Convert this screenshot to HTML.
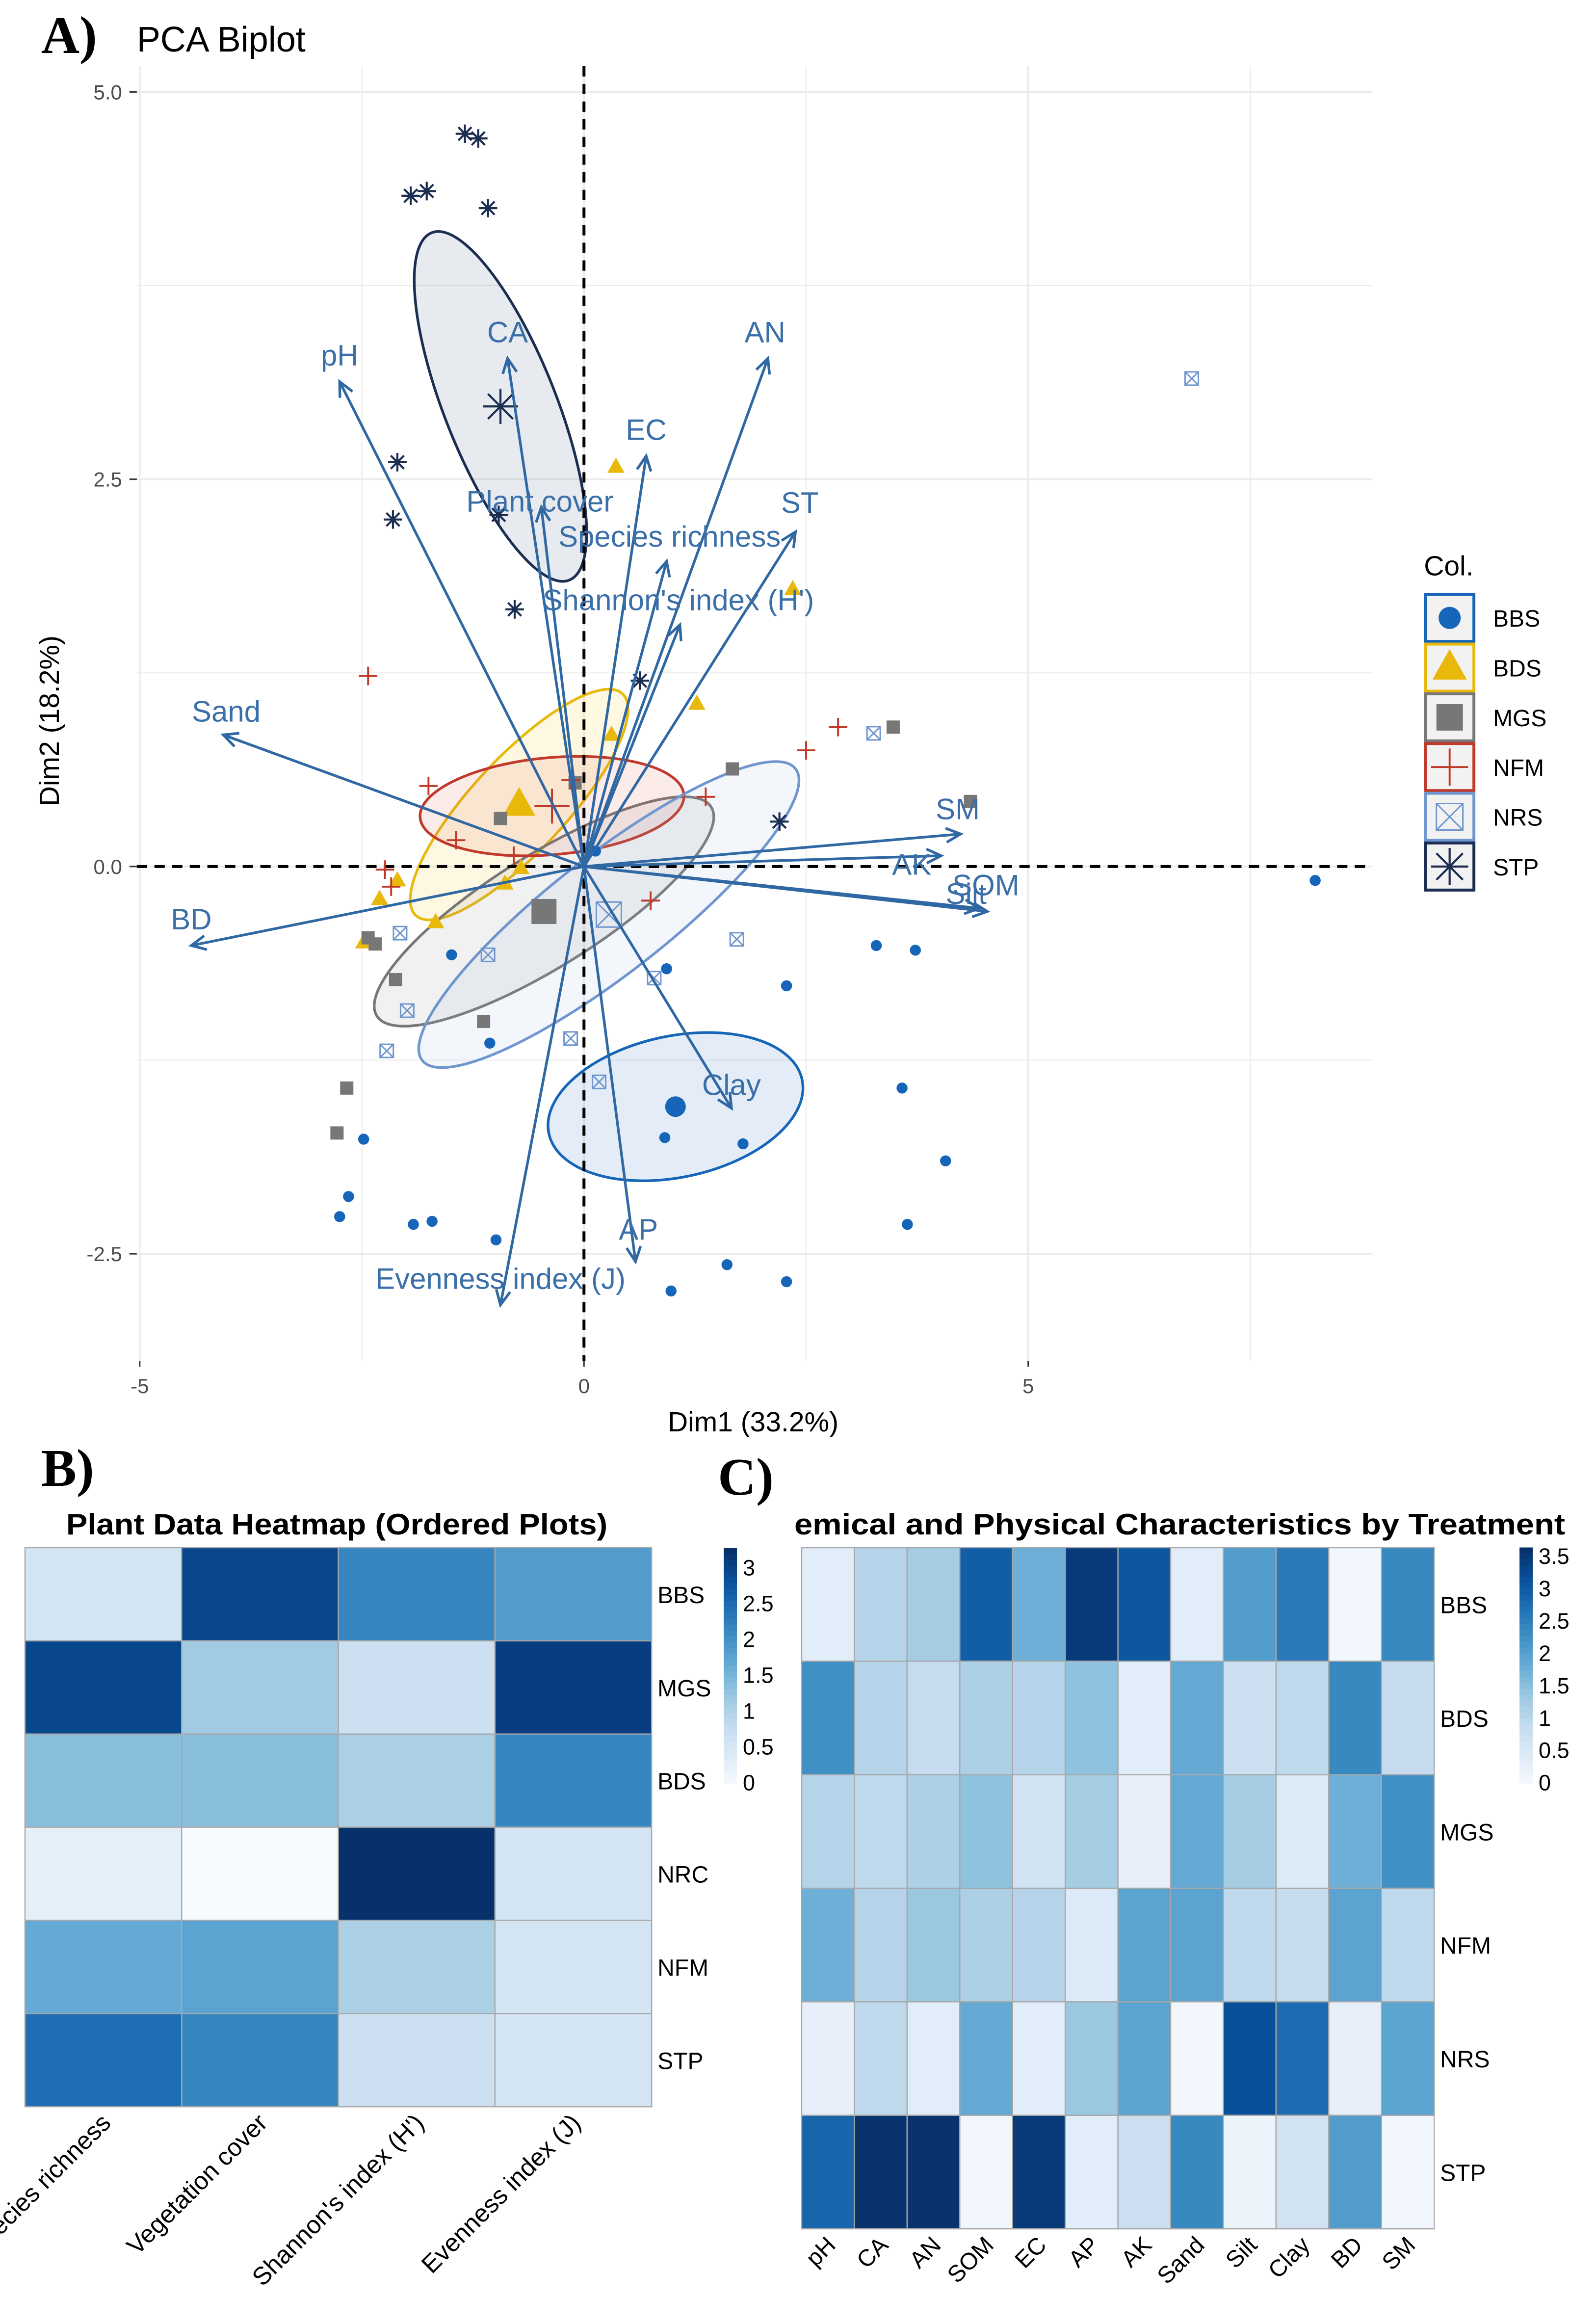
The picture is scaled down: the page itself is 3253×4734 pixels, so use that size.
<!DOCTYPE html>
<html><head><meta charset="utf-8"><style>
html,body{margin:0;padding:0;background:#fff;}
svg{display:block;}
</style></head><body>
<svg id="fig" xmlns="http://www.w3.org/2000/svg" width="3253" height="4734" viewBox="0 0 1085 1579" preserveAspectRatio="none" font-family="Liberation Sans, sans-serif">
<rect x="0" y="0" width="1085" height="1579" fill="#fff"/>
<g id="pca"></g>
<g id="hb"></g>
<g id="hc"></g>
</svg>
<script>
const NS="http://www.w3.org/2000/svg";
function mk(parent,tag,attrs,txt){const e=document.createElementNS(NS,tag);for(const k in attrs)e.setAttribute(k,attrs[k]);if(txt!==undefined)e.textContent=txt;parent.appendChild(e);return e;}

// ===== PCA data =====
const bbsX=[8.23,0.93,2.28,3.29,3.73,3.58,4.07,3.64,0.91,1.79,-2.48,-2.65,-2.75,-1.92,-1.71,-0.99,-1.49,-1.06,0.13,1.61,0.98,2.28];
const bbsY=[-0.09,-0.66,-0.77,-0.51,-0.54,-1.43,-1.90,-2.31,-1.75,-1.79,-1.76,-2.13,-2.26,-2.31,-2.29,-2.41,-0.57,-1.14,0.10,-2.57,-2.74,-2.68];
const bdsX=[0.36,2.35,1.27,0.31,-2.10,-2.30,-2.48,-1.67,-0.89,-0.71];
const bdsY=[2.58,1.79,1.05,0.85,-0.09,-0.21,-0.49,-0.36,-0.11,-0.01];
const mgsX=[3.48,4.35,1.67,-0.10,-0.94,-2.43,-2.35,-2.12,-2.67,-2.78,-1.13];
const mgsY=[0.90,0.42,0.63,0.54,0.31,-0.46,-0.50,-0.73,-1.43,-1.72,-1.00];
const nfmX=[-2.43,-1.75,-1.44,-2.17,-2.24,-0.79,-0.15,1.37,2.50,2.86,0.75];
const nfmY=[1.23,0.52,0.17,-0.13,-0.02,0.07,0.56,0.45,0.75,0.90,-0.22];
const nrsX=[6.84,3.26,1.72,0.79,-0.15,0.17,-1.08,-2.07,-1.99,-2.22];
const nrsY=[3.15,0.86,-0.47,-0.72,-1.11,-1.39,-0.57,-0.43,-0.93,-1.19];
const stpX=[-1.34,-1.19,-1.95,-1.77,-1.08,-2.10,-2.15,-0.96,-0.78,0.63,2.20];
const stpY=[4.73,4.70,4.33,4.36,4.25,2.61,2.24,2.27,1.66,1.20,0.29];
const groups=["BBS","BDS","MGS","NFM","NRS","STP"];
const centX=[1.03,-0.73,-0.45,-0.36,0.28,-0.94];
const centY=[-1.55,0.40,-0.29,0.39,-0.31,2.97];
const varNames=["pH","CA","AN","EC","ST","Plant cover","Species richness","Shannon's index (H')","Sand","BD","SM","AK","Silt","SOM","Clay","AP","Evenness index (J)"];
const varX=[-2.75,-0.86,2.07,0.70,2.38,-0.48,0.93,1.08,-4.06,-4.42,4.24,4.02,4.45,4.54,1.66,0.58,-0.94];
const varY=[3.13,3.28,3.28,2.65,2.16,2.32,1.97,1.56,0.85,-0.51,0.21,0.07,-0.27,-0.29,-1.56,-2.55,-2.83];
const xTicks=[-5,0,5];
const yTicks=[-2.5,0,2.5,5];
const yTickLabels=["-2.5","0.0","2.5","5.0"];

// layout (not data)
const labOff=[[0,-18],[0,-18],[-2,-18],[0,-18],[3,-20],[-1,-4],[2,-17],[-1,-17],[2,-16],[0,-18],[-2,-17],[-20,6],[-9,-10],[-1,-18],[0,-16],[2,-22],[0,-18]];
// BBS, BDS, MGS, NFM, NRS, STP
const ell=[[88,48,-12],[103,32,-47],[134,38,-32],[90,33,-5],[161,40,-38],[38,127,-21.6]];
const gcol=["#1565b8","#e8b90b","#777777","#c0392b","#6f96cf","#1b2d50"];
const gfill=["#1f6fc0","#f5c518","#8a8a8a","#e06050","#9db6e0","#3a4f70"];

const X0=397,XS=60.4,Y0=589,YS=105.3;
const sx=v=>X0+v*XS, sy=v=>Y0-v*YS;
const P=document.getElementById('pca');
const SERIF='font-family:"Liberation Serif",serif';

const PL=93,PR=933,PT=45,PB=925;
for(let v=-5;v<=7.5;v+=2.5){const line=mk(P,'line',{x1:sx(v),x2:sx(v),y1:PT,y2:PB,stroke:'#ebebeb','stroke-width':v%5===0?1.2:0.7});}
for(let v=-2.5;v<=5;v+=1.25){const line=mk(P,'line',{x1:PL,x2:PR,y1:sy(v),y2:sy(v),stroke:'#ebebeb','stroke-width':(v/2.5)%1===0?1.2:0.7});}

xTicks.forEach(t=>{const l=mk(P,'text',{x:sx(t),y:947,'font-size':14,'text-anchor':'middle',fill:'#4d4d4d'},String(t));mk(P,'line',{x1:sx(t),x2:sx(t),y1:PB,y2:PB+4,stroke:'#333'});});
yTicks.forEach((t,i)=>{const l=mk(P,'text',{x:83,y:sy(t)+5,'font-size':14,'text-anchor':'end',fill:'#4d4d4d'},yTickLabels[i]);mk(P,'line',{x1:PL-5,x2:PL,y1:sy(t),y2:sy(t),stroke:'#333'});});

groups.forEach((g,i)=>{const e=mk(P,'ellipse',{cx:0,cy:0,rx:ell[i][0],ry:ell[i][1],transform:`translate(${sx(centX[i])},${sy(centY[i])}) rotate(${ell[i][2]})`,fill:gfill[i],'fill-opacity':0.12,stroke:gcol[i],'stroke-width':1.8});});

mk(P,'line',{x1:PL,x2:PR,y1:sy(0),y2:sy(0),stroke:'#000','stroke-width':2,'stroke-dasharray':'7,5'});
mk(P,'line',{x1:sx(0),x2:sx(0),y1:PT,y2:PB,stroke:'#000','stroke-width':2,'stroke-dasharray':'7,5'});

function marker(parent,type,x,y,s){
  let g;
  if(type===0){g=mk(parent,'circle',{cx:x,cy:y,r:s*0.5,fill:gcol[0]});}
  else if(type===1){g=mk(parent,'polygon',{points:`${x},${y-s*0.7} ${x-s*0.65},${y+s*0.45} ${x+s*0.65},${y+s*0.45}`,fill:gcol[1]});}
  else if(type===2){g=mk(parent,'rect',{x:x-s*0.5,y:y-s*0.5,width:s,height:s,fill:gcol[2]});}
  else if(type===3){g=mk(parent,'path',{d:`M${x-s*0.7},${y}H${x+s*0.7}M${x},${y-s*0.7}V${y+s*0.7}`,stroke:gcol[3],'stroke-width':1.3,fill:'none'});}
  else if(type===4){g=mk(parent,'path',{d:`M${x-s*0.5},${y-s*0.5}h${s}v${s}h${-s}zM${x-s*0.5},${y-s*0.5}l${s},${s}M${x+s*0.5},${y-s*0.5}l${-s},${s}`,stroke:gcol[4],'stroke-width':1,fill:'none'});}
  else {g=mk(parent,'path',{d:`M${x-s*0.7},${y}H${x+s*0.7}M${x},${y-s*0.7}V${y+s*0.7}M${x-s*0.5},${y-s*0.5}L${x+s*0.5},${y+s*0.5}M${x+s*0.5},${y-s*0.5}L${x-s*0.5},${y+s*0.5}`,stroke:gcol[5],'stroke-width':1.4,fill:'none'});}
  return g;
}
const GX=[bbsX,bdsX,mgsX,nfmX,nrsX,stpX],GY=[bbsY,bdsY,mgsY,nfmY,nrsY,stpY];
GX.forEach((xs,i)=>{xs.forEach((v,j)=>{const m=marker(P,i,sx(v),sy(GY[i][j]),i===0?7.5:9);});
  const c=marker(P,i,sx(centX[i]),sy(centY[i]),i===0?14:17);});

const AC="#2f68a3";
varNames.forEach((n,i)=>{
  const x1=sx(0),y1=sy(0),x2=sx(varX[i]),y2=sy(varY[i]);
  const a=mk(P,'line',{x1,y1,x2,y2,stroke:AC,'stroke-width':1.8});
  const ang=Math.atan2(y2-y1,x2-x1),h=11;
  mk(P,'path',{d:`M${x2-h*Math.cos(ang-0.45)},${y2-h*Math.sin(ang-0.45)}L${x2},${y2}L${x2-h*Math.cos(ang+0.45)},${y2-h*Math.sin(ang+0.45)}`,stroke:AC,'stroke-width':1.8,fill:'none'});
  const t=mk(P,'text',{x:x2+labOff[i][0],y:y2+labOff[i][1]+7,'font-size':20,'text-anchor':'middle',fill:'#3a6fa8'},n);
});

let t;
t=mk(P,'text',{x:28,y:36,'font-size':36,'font-weight':'bold',style:SERIF},'A)');
t=mk(P,'text',{x:93,y:35,'font-size':24},'PCA Biplot');
t=mk(P,'text',{x:512,y:973,'font-size':19,'text-anchor':'middle'},'Dim1 (33.2%)');
t=mk(P,'text',{x:0,y:0,'font-size':19,'text-anchor':'middle',transform:'translate(40,490) rotate(-90)'},'Dim2 (18.2%)');

t=mk(P,'text',{x:968,y:391,'font-size':19},'Col.');
groups.forEach((g,i)=>{const cy=420+i*33.8;
  const r=mk(P,'rect',{x:969,y:cy-16,width:33,height:32,fill:'#f2f2f2',stroke:gcol[i],'stroke-width':2});
  marker(P,i,985.5,cy,i===0?15:18);
  const l=mk(P,'text',{x:1015,y:cy+6,'font-size':16},g);});

const blues=["#f7fbff","#deebf7","#c6dbef","#9ecae1","#6baed6","#4292c6","#2171b5","#08519c","#08306b"];
function hex(c){return [1,3,5].map(k=>parseInt(c.substr(k,2),16));}
function cmap(f){f=Math.max(0,Math.min(1,f));const p=f*(blues.length-1),i=Math.min(Math.floor(p),blues.length-2),r=p-i;const a=hex(blues[i]),b=hex(blues[i+1]);return `rgb(${a.map((v,k)=>Math.round(v+(b[k]-v)*r)).join(',')})`;}

const bRows=["BBS","MGS","BDS","NRC","NFM","STP"];
const bCols=["Species richness","Vegetation cover","Shannon's index (H')","Evenness index (J)"];
const bVals=[[0.6,3.0,2.2,1.9],[3.0,1.2,0.7,3.1],[1.4,1.4,1.1,2.2],[0.3,0.0,3.28,0.6],[1.7,1.8,1.1,0.6],[2.5,2.2,0.7,0.6]];
const bTicks=[0,0.5,1,1.5,2,2.5,3];
const bMax=3.28;

const cRows=["BBS","BDS","MGS","NFM","NRS","STP"];
const cCols=["pH","CA","AN","SOM","EC","AP","AK","Sand","Silt","Clay","BD","SM"];
const cVals=[[0.4,1.1,1.3,3.0,1.8,3.5,3.1,0.4,2.1,2.6,0.1,2.4],
[2.3,1.1,0.9,1.2,1.1,1.5,0.4,1.9,0.8,1.0,2.4,0.9],
[1.1,1.0,1.2,1.5,0.7,1.3,0.3,1.9,1.3,0.5,1.8,2.3],
[1.8,1.1,1.4,1.2,1.1,0.5,2.0,2.0,1.0,0.9,2.0,1.0],
[0.3,1.0,0.4,1.9,0.4,1.4,2.0,0.1,3.2,2.8,0.3,2.0],
[2.9,3.6,3.6,0.1,3.5,0.4,0.8,2.4,0.2,0.7,2.1,0.1]];
const cTicks=[0,0.5,1,1.5,2,2.5,3,3.5];
const cMax=3.64;

function heatmap(G,rows,cols,vals,max,ticks,L,T,W,H,barX,barB,pxPer,prefix,lblSize){
  const cw=W/cols.length,rh=H/rows.length;
  rows.forEach((r,i)=>{cols.forEach((c,j)=>{
    const cell=mk(G,'rect',{x:L+j*cw,y:T+i*rh,width:cw,height:rh,fill:cmap(vals[i][j]/max),stroke:'#a8a8a8','stroke-width':0.8});
    });
    const l=mk(G,'text',{x:L+W+4,y:T+(i+0.5)*rh+6,'font-size':16},r);});
  cols.forEach((c,j)=>{const cx=L+(j+0.5)*cw+6,cy=T+H+12;
    const l=mk(G,'text',{x:0,y:0,'font-size':lblSize,'text-anchor':'end',transform:`translate(${cx},${cy}) rotate(-45)`},c);});
  const top=barB-max*pxPer,n=40;
  for(let k=0;k<n;k++){const y=top+k*(barB-top)/n;mk(G,'rect',{x:barX,y:y,width:9,height:(barB-top)/n+0.5,fill:cmap(1-k/n)});}
  const cb=mk(G,'rect',{x:barX,y:top,width:9,height:barB-top,fill:'none'});
  ticks.forEach(tk=>{const l=mk(G,'text',{x:barX+13,y:barB-tk*pxPer+5,'font-size':15},String(tk));});
}
const HB=document.getElementById('hb'),HC=document.getElementById('hc');
heatmap(HB,bRows,bCols,bVals,bMax,bTicks,17,1052,426,380,492,1212,48.7,'b',17);
heatmap(HC,cRows,cCols,cVals,cMax,cTicks,545,1052,430,463,1033,1212,44,'c',16);

t=mk(HB,'text',{x:28,y:1010,'font-size':36,'font-weight':'bold',style:SERIF},'B)');
t=mk(HB,'text',{x:45,y:1043,'font-size':20,'font-weight':'bold',textLength:368,lengthAdjust:'spacingAndGlyphs'},'Plant Data Heatmap (Ordered Plots)');
t=mk(HC,'text',{x:488,y:1016,'font-size':36,'font-weight':'bold',style:SERIF},'C)');
t=mk(HC,'text',{x:540,y:1043,'font-size':20,'font-weight':'bold',textLength:524,lengthAdjust:'spacingAndGlyphs'},'emical and Physical Characteristics by Treatment');
</script>
</body></html>
